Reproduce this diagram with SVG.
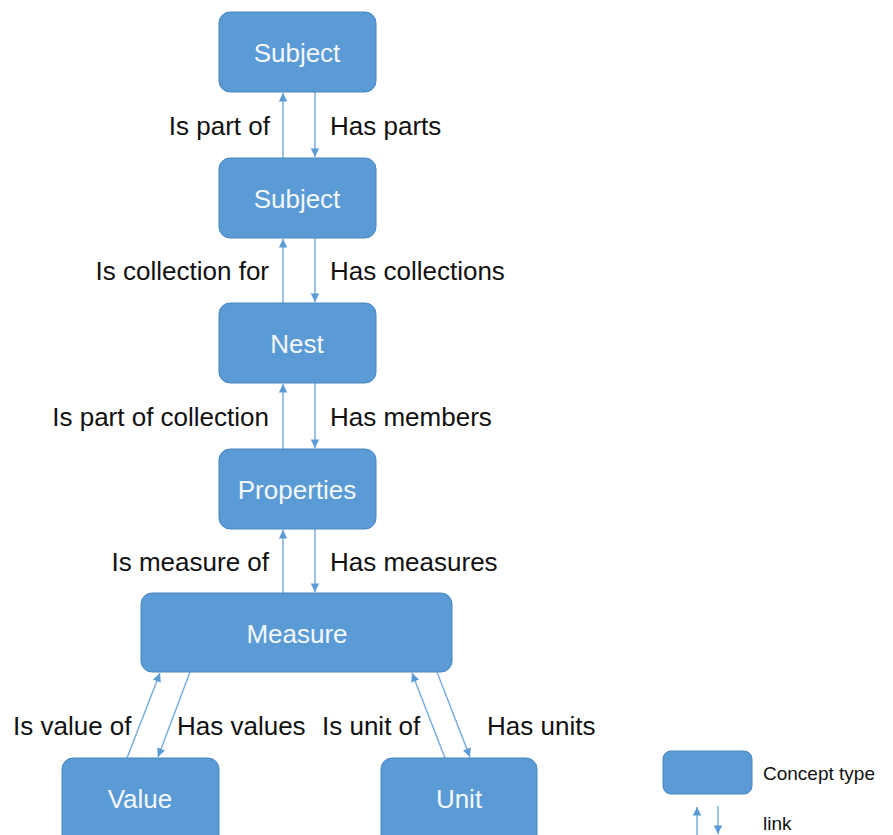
<svg xmlns="http://www.w3.org/2000/svg" width="893" height="835" viewBox="0 0 893 835">
<style>
.box{fill:#5B9BD5;stroke:#4A86BE;stroke-width:1}
.nt{font-family:"Liberation Sans",Arial,sans-serif;font-size:26px;fill:#F4F8FC;text-anchor:middle}
.lb{font-family:"Liberation Sans",Arial,sans-serif;font-size:26px;fill:#111}
.r{text-anchor:end}
.lg{font-family:"Liberation Sans",Arial,sans-serif;font-size:19px;fill:#111}
.ln{stroke:#7AAEDF;stroke-width:1.5;fill:none;marker-end:url(#ah)}
</style>
<defs>
<marker id="ah" viewBox="0 0 10 10" refX="10" refY="5" markerWidth="6" markerHeight="6" markerUnits="userSpaceOnUse" orient="auto" overflow="visible">
<path d="M0,0 L10,5 L0,10 z" fill="#5B9BD5" transform="scale(1.4) translate(-3,-1.4)"/>
</marker>
</defs>
<rect width="893" height="835" fill="#fff"/>
<g id="connectors">
<line class="ln" x1="283" y1="158" x2="283" y2="93"/>
<line class="ln" x1="315" y1="92" x2="315" y2="157"/>
<line class="ln" x1="283" y1="303" x2="283" y2="239"/>
<line class="ln" x1="315" y1="238" x2="315" y2="302"/>
<line class="ln" x1="283" y1="449" x2="283" y2="384"/>
<line class="ln" x1="315" y1="383" x2="315" y2="448"/>
<line class="ln" x1="283" y1="593" x2="283" y2="530"/>
<line class="ln" x1="315" y1="529" x2="315" y2="592"/>
<line class="ln" x1="127" y1="758" x2="160" y2="673"/>
<line class="ln" x1="190" y1="672" x2="158" y2="757"/>
<line class="ln" x1="445" y1="758" x2="412" y2="673"/>
<line class="ln" x1="437" y1="672" x2="470" y2="757"/>
<line class="ln" x1="697" y1="835" x2="697" y2="807"/>
<line class="ln" x1="718" y1="806" x2="718" y2="834"/>
</g>
<g id="subject1"><rect class="box" x="219" y="12" width="157" height="80" rx="11"/><text class="nt" x="297" y="62">Subject</text></g>
<g id="subject2"><rect class="box" x="219" y="158" width="157" height="80" rx="11"/><text class="nt" x="297" y="208">Subject</text></g>
<g id="nest"><rect class="box" x="219" y="303" width="157" height="80" rx="11"/><text class="nt" x="297" y="353">Nest</text></g>
<g id="properties"><rect class="box" x="219" y="449" width="157" height="80" rx="11"/><text class="nt" x="297" y="499">Properties</text></g>
<g id="measure"><rect class="box" x="141" y="593" width="311" height="79" rx="11"/><text class="nt" x="297" y="643">Measure</text></g>
<g id="value"><rect class="box" x="62" y="758" width="157" height="90" rx="11"/><text class="nt" x="140" y="808">Value</text></g>
<g id="unit"><rect class="box" x="381" y="758" width="156" height="90" rx="11"/><text class="nt" x="459" y="808">Unit</text></g>
<g id="labels">
<text class="lb r" x="270" y="135">Is part of</text>
<text class="lb" x="330" y="135">Has parts</text>
<text class="lb r" x="269" y="280">Is collection for</text>
<text class="lb" x="330" y="280">Has collections</text>
<text class="lb r" x="269" y="426">Is part of collection</text>
<text class="lb" x="330" y="426">Has members</text>
<text class="lb r" x="269" y="571">Is measure of</text>
<text class="lb" x="330" y="571">Has measures</text>
<text class="lb" x="13" y="735">Is value of</text>
<text class="lb" x="177" y="735">Has values</text>
<text class="lb" x="322" y="735">Is unit of</text>
<text class="lb" x="487" y="735">Has units</text>
</g>
<g id="legend">
<rect class="box" x="663" y="751" width="89" height="43" rx="8"/>
<text class="lg" x="763" y="780">Concept type</text>
<text class="lg" x="763" y="830">link</text>
</g>
</svg>
